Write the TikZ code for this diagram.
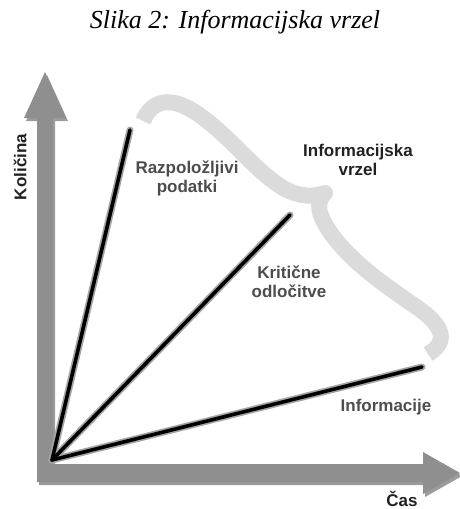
\documentclass[tikz,border=0pt]{standalone}
\usepackage{fontspec}
\setmainfont{Liberation Serif}
\setsansfont{Liberation Sans}
\definecolor{axisgray}{rgb}{0.56,0.56,0.56}
\definecolor{axisshadow}{rgb}{0.35,0.35,0.35}
\definecolor{gapgray}{rgb}{0.86,0.86,0.86}
\definecolor{lblgray}{rgb}{0.30,0.30,0.30}
\definecolor{lbldark}{rgb}{0.13,0.13,0.13}
\tikzset{
  lbl/.style={font=\sffamily\bfseries\fontsize{17}{19}\selectfont, align=center, inner sep=0pt},
  trendline/.style={line width=3.6pt, black, line cap=round},
  trendhalo/.style={line width=7pt, black!35, line cap=round},
}
\begin{document}
\begin{tikzpicture}[x=1pt,y=-1pt]
\useasboundingbox (0,0) rectangle (460,509);
% title
\node[font=\itshape\fontsize{26}{30}\selectfont, anchor=base] (title) at (235,28) {Slika 2: Informacijska vrzel};
% axes (L-shaped double arrow)
\fill[axisshadow, opacity=0.6, shift={(2,3)}] (45,72) -- (66,118) -- (53,118) -- (53,464) -- (423,464) -- (423,452) -- (460,473) -- (423,494) -- (423,482) -- (37,482) -- (37,118) -- (24,118) -- cycle;
\fill[axisgray] (45,72) -- (66,118) -- (53,118) -- (53,464) -- (423,464) -- (423,452) -- (460,473) -- (423,494) -- (423,482) -- (37,482) -- (37,118) -- (24,118) -- cycle;
% information gap brace
\draw[gapgray, line width=16pt, line join=round]
  (143,121) .. controls (152,100) and (170,96) .. (195,112)
  .. controls (230,135) and (255,172) .. (285,189)
  .. controls (300,197) and (314,197) .. (325,193)
  .. controls (315,203) and (318,215) .. (332,235)
  .. controls (355,265) and (385,285) .. (412,304)
  .. controls (440,322) and (452,340) .. (428,354);
% lines
\coordinate (O) at (52,460);
\coordinate (rp) at (130,130);
\coordinate (ko) at (290,215);
\coordinate (inf) at (422,367);
\draw[trendhalo] (O) -- (rp);
\draw[trendhalo] (O) -- (ko);
\draw[trendhalo] (O) -- (inf);
\draw[trendline] (O) -- (rp);
\draw[trendline] (O) -- (ko);
\draw[trendline] (O) -- (inf);
% labels
\node[lbl, text=lblgray] (lrp) at (187,178) {Razpoložljivi\\podatki};
\node[lbl, text=lbldark] (lgap) at (358,160) {Informacijska\\vrzel};
\node[lbl, text=lblgray] (lko) at (289,282) {Kritične\\odločitve};
\node[lbl, text=lbldark!80!white] (linf) at (386,407) {Informacije};
\node[lbl, text=lbldark] (lcas) at (402,499) {Čas};
\node[lbl, text=lbldark, rotate=90] (lkol) at (20,167) {Količina};
\end{tikzpicture}
\end{document}
